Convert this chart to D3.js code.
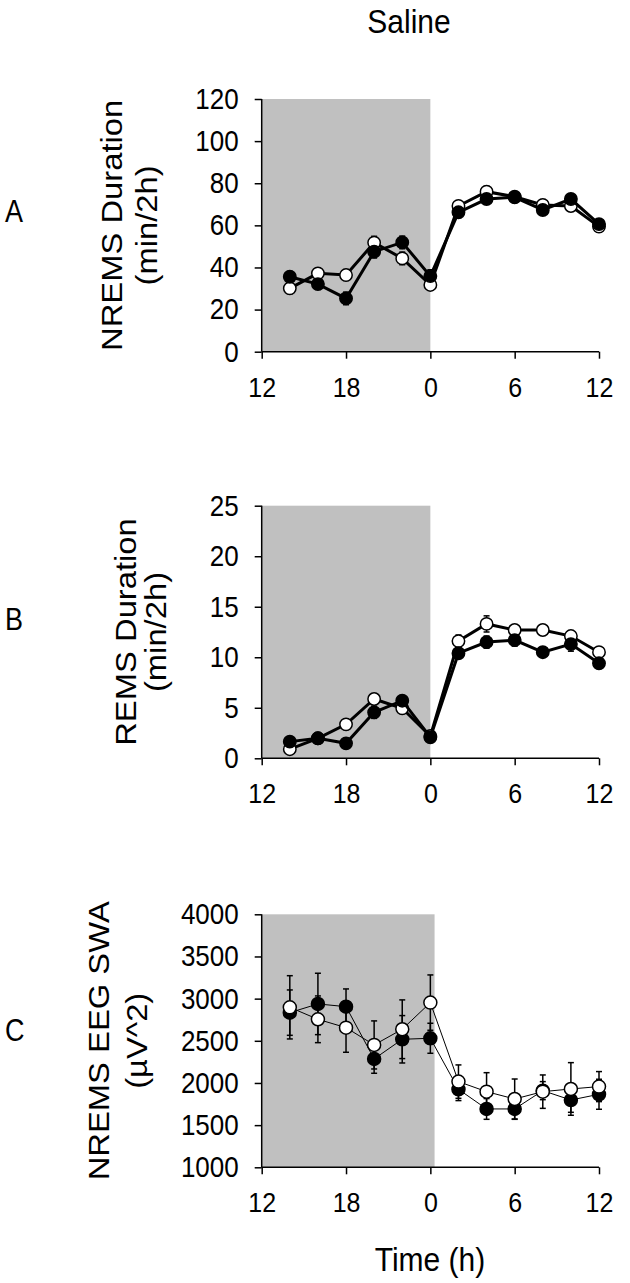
<!DOCTYPE html>
<meta charset="utf-8">
<title>Saline</title>
<style>
  body { margin: 0; background: #fff; }
  text { font-family: "Liberation Sans", Arial, sans-serif; fill: #000; }
  .axis path, .axis line { stroke: #000; stroke-width: 1.5px; }
</style>
<body>
<script src="https://cdn.jsdelivr.net/npm/d3@7"></script>
<script>

var width = 630,
    height = 1283;

// hours relative to lights-on (0); -12..0 is the dark phase
var hours = [-10, -8, -6, -4, -2, 0, 2, 4, 6, 8, 10, 12];
var xTicks = [-12, -6, 0, 6, 12];
var xTickLabels = ["12", "18", "0", "6", "12"];

var nremFilled = [35.6, 32.1, 25.3, 47.5, 51.9, 35.9, 66.2, 72.5, 73.3, 67.3, 72.5, 60.6];
var nremOpen   = [30.1, 37.2, 36.4, 51.8, 44.3, 31.7, 69.2, 76.0, 73.6, 69.7, 69.2, 59.4];
var nremFilledErr = [2.5, 2.5, 3, 3, 3, 3, 2.5, 2.5, 2, 2.5, 2.5, 2.5];
var nremOpenErr   = [2.5, 2.5, 2.5, 3, 3, 2.5, 2.5, 2.5, 2, 2.5, 2.5, 2.5];

var remFilled = [1.65, 1.98, 1.48, 4.55, 5.7, 2.08, 10.4, 11.5, 11.7, 10.5, 11.3, 9.4];
var remOpen   = [0.9, 1.98, 3.36, 5.87, 4.95, 2.2, 11.6, 13.3, 12.7, 12.7, 12.1, 10.5];
var remFilledErr = [0.4, 0.3, 0.4, 0.6, 0.5, 0.4, 0.5, 0.6, 0.6, 0.5, 0.7, 0.5];
var remOpenErr   = [0.3, 0.3, 0.5, 0.5, 0.5, 0.4, 0.6, 0.8, 0.5, 0.5, 0.5, 0.5];

var swaFilled = [2834, 2937, 2905, 2285, 2518, 2530, 1925, 1692, 1692, 1909, 1798, 1866];
var swaOpen   = [2897, 2755, 2656, 2451, 2637, 2953, 2016, 1897, 1810, 1897, 1929, 1957];
var swaFilledErr = [269, 364, 210, 170, 281, 178, 134, 123, 123, 107, 146, 178];
var swaOpenErr   = [375, 277, 292, 285, 348, 328, 198, 225, 237, 198, 312, 178];

var stretch = 1.13;

var svg = d3.select("body").append("svg")
  .attr("width", width)
  .attr("height", height);

var x = d3.scaleLinear().domain([-12, 12]).range([261.7, 599]);

function label(x0, y0, str, size, anchor) {
  return svg.append("text")
    .attr("transform", "translate(" + x0 + "," + y0 + ") scale(1," + stretch + ")")
    .attr("text-anchor", anchor || "middle")
    .style("font-size", size + "px")
    .text(str);
}

function panel(p) {
  var y = d3.scaleLinear().domain(p.domain).range([p.bottom, p.top]);
  var g = svg.append("g");

  g.append("rect")
    .attr("x", x(-12))
    .attr("y", y(p.domain[1]))
    .attr("width", x(p.shadeEnd) - x(-12))
    .attr("height", y(p.domain[0]) - y(p.domain[1]))
    .attr("fill", "#c0c0c0");

  var ya = g.append("g").attr("class", "axis")
    .attr("transform", "translate(" + x(-12) + ",0)")
    .call(d3.axisLeft(y).tickValues(p.yTicks).tickSize(7).tickSizeOuter(0).tickPadding(16).tickFormat(d3.format("d")));
  ya.select(".domain").attr("d", "M0," + y(p.domain[0]) + "V" + y(p.domain[1]));
  ya.selectAll("text").style("font-size", "26px").attr("transform", "scale(1," + stretch + ")");

  var xa = g.append("g").attr("class", "axis")
    .attr("transform", "translate(0," + y(p.domain[0]) + ")")
    .call(d3.axisBottom(x).tickValues(xTicks).tickSize(7).tickSizeOuter(0)
      .tickFormat(function(d, i) { return xTickLabels[i]; }));
  xa.select(".domain").attr("d", "M" + x(-12) + ",0H" + x(12));
  xa.selectAll("text").style("font-size", "25px")
    .attr("dy", null).attr("y", 39.8)
    .attr("transform", "scale(1," + stretch + ")");

  p.series.forEach(function(s) {
    var pts = hours.map(function(h, i) { return {h: h, v: s.values[i], e: s.err[i]}; });
    var eb = g.append("g").attr("stroke", "#000").attr("stroke-width", 1.5);
    eb.selectAll("line.bar").data(pts).enter().append("line")
      .attr("x1", function(d) { return x(d.h); }).attr("x2", function(d) { return x(d.h); })
      .attr("y1", function(d) { return y(d.v - d.e); }).attr("y2", function(d) { return y(d.v + d.e); });
    [-1, 1].forEach(function(sign) {
      eb.selectAll("line.cap" + sign).data(pts).enter().append("line")
        .attr("x1", function(d) { return x(d.h) - 3; }).attr("x2", function(d) { return x(d.h) + 3; })
        .attr("y1", function(d) { return y(d.v + sign * d.e); }).attr("y2", function(d) { return y(d.v + sign * d.e); });
    });
  });

  p.series.forEach(function(s) {
    var line = d3.line().x(function(d, i) { return x(hours[i]); }).y(function(d) { return y(d); });
    g.append("path").datum(s.values)
      .attr("d", line)
      .attr("fill", "none")
      .attr("stroke", "#000")
      .attr("stroke-width", p.lineWidth);
    g.selectAll(null).data(s.values).enter().append("circle")
      .attr("cx", function(d, i) { return x(hours[i]); })
      .attr("cy", function(d) { return y(d); })
      .attr("r", p.r)
      .attr("fill", s.fill)
      .attr("stroke", "#000")
      .attr("stroke-width", 1.5);
  });

  // y title, two lines, rotated
  var mid = (p.top + p.bottom) / 2;
  p.title.forEach(function(t, i) {
    svg.append("text")
      .attr("transform", "translate(" + p.titleX[i] + "," + mid + ") rotate(-90) scale(" + stretch + ",1)")
      .attr("text-anchor", "middle")
      .style("font-size", "29px")
      .text(t);
  });

  label(5, p.letterY, p.letter, 27, "start");
}

panel({
  letter: "A", letterY: 222,
  domain: [0, 120], yTicks: d3.range(0, 121, 20), top: 99, bottom: 351.7, shadeEnd: 0,
  title: ["NREMS Duration", "(min/2h)"], titleX: [122, 157],
  lineWidth: 3, r: 6.2,
  series: [
    {values: nremOpen, err: nremOpenErr, fill: "#fff"},
    {values: nremFilled, err: nremFilledErr, fill: "#000"}
  ]
});

panel({
  letter: "B", letterY: 630,
  domain: [0, 25], yTicks: d3.range(0, 26, 5), top: 505.7, bottom: 758.3, shadeEnd: 0,
  title: ["REMS Duration", "(min/2h)"], titleX: [136, 166],
  lineWidth: 3, r: 6.2,
  series: [
    {values: remOpen, err: remOpenErr, fill: "#fff"},
    {values: remFilled, err: remFilledErr, fill: "#000"}
  ]
});

panel({
  letter: "C", letterY: 1041,
  domain: [1000, 4000], yTicks: d3.range(1000, 4001, 500), top: 914.3, bottom: 1167.3, shadeEnd: 0.3,
  title: ["NREMS EEG SWA", "(\u00b5V^2)"], titleX: [109, 147],
  lineWidth: 1, r: 6.5,
  series: [
    {values: swaFilled, err: swaFilledErr, fill: "#000"},
    {values: swaOpen, err: swaOpenErr, fill: "#fff"}
  ]
});

label(409, 33, "Saline", 30);
label(430, 1271, "Time (h)", 30);

</script>
